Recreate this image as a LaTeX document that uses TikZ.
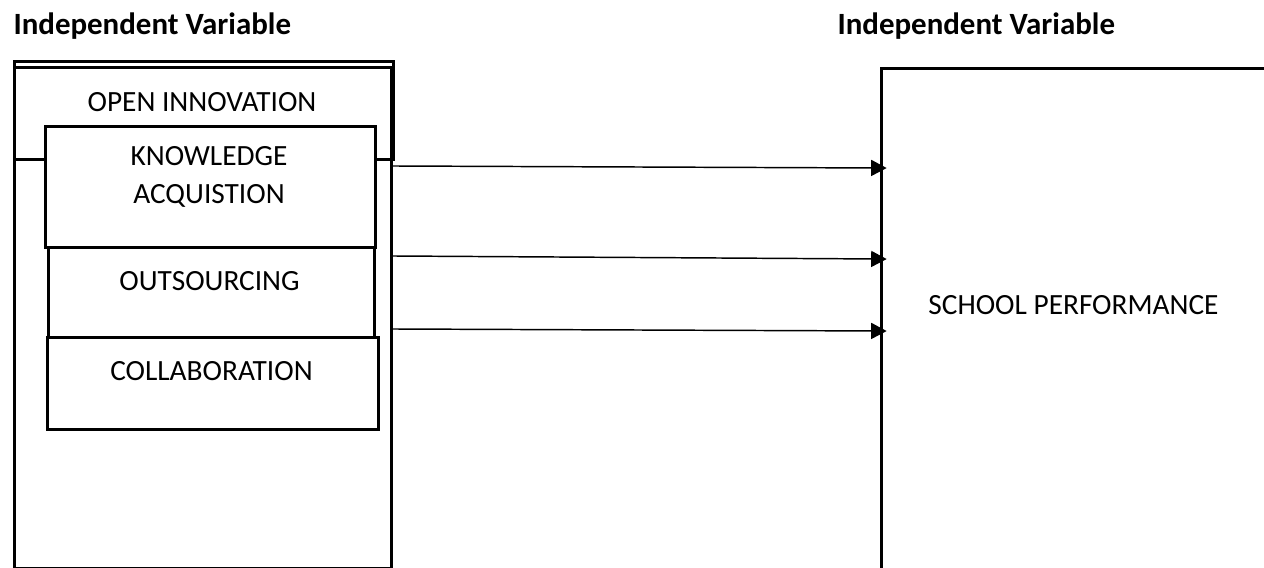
\documentclass[tikz,border=0pt]{standalone}
\usepackage{fontspec}
\setmainfont{Carlito}
\usetikzlibrary{arrows.meta}
\newcommand{\pxu}{0.375pt}
\tikzset{
  >={Triangle[length=5.8pt,width=6pt]},
  boxline/.style={draw=black,line width=1.1pt,fill=white,inner sep=0pt,anchor=north west},
  thinarrow/.style={draw=black,line width=0.55pt,->,shorten >=-2.5pt},
  boxtext/.style={font=\fontsize{11}{14.25}\selectfont,inner sep=0pt,align=center,anchor=base},
  titletext/.style={font=\fontsize{11.6}{13}\selectfont\bfseries,inner sep=0pt,anchor=base west}
}
\begin{document}
\begin{tikzpicture}[x=\pxu,y=-\pxu]
  \useasboundingbox (0,0) rectangle (1264,568);
  \node (titleL) at (13,35) [titletext] {Independent Variable};
  \node (titleR) at (837,35) [titletext] {Independent Variable};
  % left side
  \node (oihead) at (13,60) [boxline,minimum width=379*\pxu,minimum height=98*\pxu] {};
  \node (outer) at (13,66) [boxline,fill=none,minimum width=377*\pxu,minimum height=501*\pxu] {};
  \node (oitext) at (202,112) [boxtext] {OPEN INNOVATION};
  \node (ka) at (44,125) [boxline,minimum width=330*\pxu,minimum height=121*\pxu] {};
  \node (katext) at (209,204) [boxtext] {KNOWLEDGE\\ACQUISTION};
  \node (outs) at (47,246) [boxline,minimum width=326*\pxu,minimum height=90*\pxu] {};
  \node (outstext) at (209.5,291) [boxtext] {OUTSOURCING};
  \node (collab) at (46,336) [boxline,minimum width=331*\pxu,minimum height=92*\pxu] {};
  \node (collabtext) at (211.5,381) [boxtext] {COLLABORATION};
  % right side
  \node (perf) at (880,66.7) [boxline,minimum width=450*\pxu,minimum height=560*\pxu] {};
  \node (perftext) at (1073.5,315) [boxtext] {SCHOOL PERFORMANCE};
  \draw (outer.east |- 0,166) -- (perf.west |- 0,168) [thinarrow];
  \draw (outer.east |- 0,256) -- (perf.west |- 0,259) [thinarrow];
  \draw (outer.east |- 0,329) -- (perf.west |- 0,331) [thinarrow];
\end{tikzpicture}
\end{document}
